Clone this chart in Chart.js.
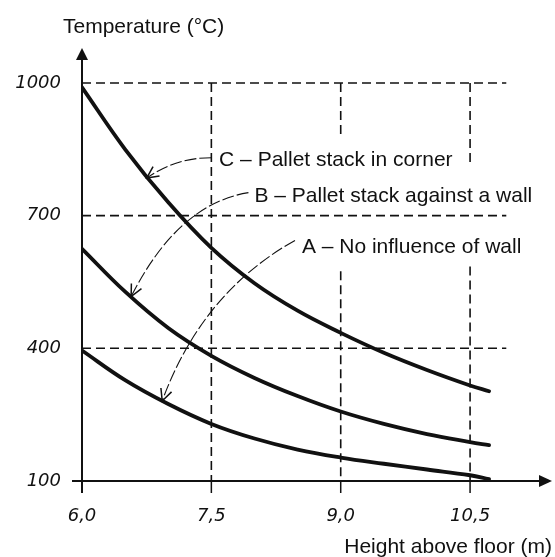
<!DOCTYPE html>
<html>
<head>
<meta charset="utf-8">
<script src="https://cdn.jsdelivr.net/npm/chart.js@4.4.0/dist/chart.umd.min.js"></script>
<style>
    html, body { margin: 0; padding: 0; background: #fff; }
    #wrap { position: relative; width: 555px; height: 557px; }
</style>
</head>
<body>
<div id="wrap"><canvas id="fireChart"></canvas></div>
<script>
// Height above floor (m)
const heights = [6.0, 6.5, 7.0, 7.5, 8.0, 8.5, 9.0, 9.5, 10.0, 10.5, 10.72];
// Temperature (°C), one list per curve
const tempA = [395, 328, 274, 229, 196, 171, 153, 139, 126, 113, 104];
const tempB = [625, 528, 446, 383, 333, 292, 257, 229, 206, 188, 181];
const tempC = [990, 850, 730, 627, 547, 485, 435, 390, 351, 316, 303];

const xTicks = [6.0, 7.5, 9.0, 10.5];
const xTickLabels = ['6,0', '7,5', '9,0', '10,5'];
const yTicks = [100, 400, 700, 1000];
const yTickLabels = ['100', '400', '700', '1000'];

const curveLabels = [
    'A – No influence of wall',
    'B – Pallet stack against a wall',
    'C – Pallet stack in corner'
];

const ink = '#111';
const textFont = '21px "Liberation Sans", Arial, sans-serif';

// dashed guide lines, callout leaders and the hand-drawn axes
const sketchPlugin = {
    id: 'sketch',
    beforeDatasetsDraw(chart, args, opts) {
        const { ctx, scales: { x, y } } = chart;
        ctx.save();
        ctx.strokeStyle = ink;
        ctx.lineWidth = 1.6;
        ctx.setLineDash([9, 5]);
        opts.hLines.forEach(v => {
            ctx.beginPath();
            ctx.moveTo(x.getPixelForValue(x.min), y.getPixelForValue(v));
            ctx.lineTo(x.getPixelForValue(opts.hEnd), y.getPixelForValue(v));
            ctx.stroke();
        });
        opts.vLines.forEach(line => {
            line.spans.forEach(s => {
                ctx.beginPath();
                ctx.moveTo(x.getPixelForValue(line.x), y.getPixelForValue(s[0]));
                ctx.lineTo(x.getPixelForValue(line.x), y.getPixelForValue(s[1]));
                ctx.stroke();
            });
        });
        ctx.restore();
    },
    afterDatasetsDraw(chart, args, opts) {
        const { ctx, chartArea, scales: { x, y } } = chart;
        const x0 = x.getPixelForValue(x.min);
        const y0 = y.getPixelForValue(y.min);
        ctx.save();
        ctx.strokeStyle = ink;
        ctx.fillStyle = ink;
        ctx.setLineDash([]);

        // axes
        ctx.lineWidth = 2;
        ctx.beginPath();
        ctx.moveTo(x0, y0 + 12);
        ctx.lineTo(x0, chartArea.top + 8);
        ctx.moveTo(x0 - 10, y0);
        ctx.lineTo(chartArea.right - 8, y0);
        ctx.stroke();

        ctx.beginPath();
        ctx.moveTo(x0, chartArea.top);
        ctx.lineTo(x0 - 6, chartArea.top + 12);
        ctx.lineTo(x0 + 6, chartArea.top + 12);
        ctx.closePath();
        ctx.fill();
        ctx.beginPath();
        ctx.moveTo(chartArea.right, y0);
        ctx.lineTo(chartArea.right - 13, y0 - 6);
        ctx.lineTo(chartArea.right - 13, y0 + 6);
        ctx.closePath();
        ctx.fill();

        ctx.lineWidth = 1.5;
        xTicks.slice(1).forEach(v => {
            const px = x.getPixelForValue(v);
            ctx.beginPath();
            ctx.moveTo(px, y0);
            ctx.lineTo(px, y0 + 12);
            ctx.stroke();
        });

        // callouts
        ctx.font = textFont;
        ctx.textAlign = 'left';
        ctx.textBaseline = 'alphabetic';
        opts.notes.forEach(n => {
            const sx = x.getPixelForValue(n.from[0]), sy = y.getPixelForValue(n.from[1]);
            const cx = x.getPixelForValue(n.ctrl[0]), cy = y.getPixelForValue(n.ctrl[1]);
            const tx = x.getPixelForValue(n.tip[0]), ty = y.getPixelForValue(n.tip[1]);
            ctx.lineWidth = 1.1;
            ctx.setLineDash([12, 3]);
            ctx.beginPath();
            ctx.moveTo(sx, sy);
            ctx.quadraticCurveTo(cx, cy, tx, ty);
            ctx.stroke();

            const ang = Math.atan2(ty - cy, tx - cx);
            ctx.setLineDash([]);
            ctx.lineWidth = 1.5;
            ctx.beginPath();
            ctx.moveTo(tx - 13 * Math.cos(ang - 0.45), ty - 13 * Math.sin(ang - 0.45));
            ctx.lineTo(tx, ty);
            ctx.lineTo(tx - 13 * Math.cos(ang + 0.45), ty - 13 * Math.sin(ang + 0.45));
            ctx.stroke();

            ctx.fillText(n.text, x.getPixelForValue(n.at[0]), y.getPixelForValue(n.at[1]) + 7.5);
        });

        // axis titles
        ctx.fillText('Temperature (°C)', 63, 33);
        ctx.textAlign = 'right';
        ctx.fillText('Height above floor (m)', 552, 553);
        ctx.restore();
    }
};

new Chart(document.getElementById('fireChart'), {
    type: 'line',
    data: {
        datasets: [tempA, tempB, tempC].map((temps, i) => ({
            label: curveLabels[i],
            data: heights.map((h, j) => ({ x: h, y: temps[j] })),
            borderColor: ink,
            borderWidth: 3.8,
            borderCapStyle: 'round',
            pointRadius: 0,
            tension: 0.4,
            fill: false
        }))
    },
    options: {
        responsive: true,
        maintainAspectRatio: false,
        animation: false,
        layout: { padding: { top: 48, right: 3, left: 0, bottom: 0 } },
        plugins: {
            legend: { display: false },
            tooltip: { enabled: false },
            sketch: {
                hLines: [1000, 700, 400],
                hEnd: 10.92,
                vLines: [
                    { x: 7.5, spans: [[1000, 100]] },
                    { x: 9.0, spans: [[1000, 880], [574, 100]] },
                    { x: 10.5, spans: [[1000, 815], [585, 100]] }
                ],
                notes: [
                    { text: curveLabels[2], at: [7.59, 829], from: [7.5, 831], ctrl: [7.09, 831], tip: [6.75, 785] },
                    { text: curveLabels[1], at: [8.0, 747], from: [7.93, 752], ctrl: [7.11, 726], tip: [6.57, 517] },
                    { text: curveLabels[0], at: [8.55, 632], from: [8.47, 644], ctrl: [7.39, 526], tip: [6.93, 281] }
                ]
            }
        },
        scales: {
            x: {
                type: 'linear',
                min: 6,
                max: 11.45,
                afterFit: s => { s.height = 76; },
                afterBuildTicks: s => { s.ticks = xTicks.map(v => ({ value: v })); },
                grid: { display: false, drawTicks: false },
                border: { display: false },
                ticks: {
                    autoSkip: false,
                    maxRotation: 0,
                    padding: 25,
                    color: ink,
                    font: { family: '"DejaVu Sans"', style: 'italic', size: 18 },
                    callback: (v, i) => xTickLabels[i]
                }
            },
            y: {
                type: 'linear',
                min: 100,
                max: 1079,
                afterFit: s => { s.width = 82; },
                afterBuildTicks: s => { s.ticks = yTicks.map(v => ({ value: v })); },
                grid: { display: false, drawTicks: false },
                border: { display: false },
                ticks: {
                    autoSkip: false,
                    padding: 21,
                    color: ink,
                    font: { family: '"DejaVu Sans"', style: 'italic', size: 18 },
                    callback: (v, i) => yTickLabels[i]
                }
            }
        }
    },
    plugins: [sketchPlugin]
});
</script>
</body>
</html>
